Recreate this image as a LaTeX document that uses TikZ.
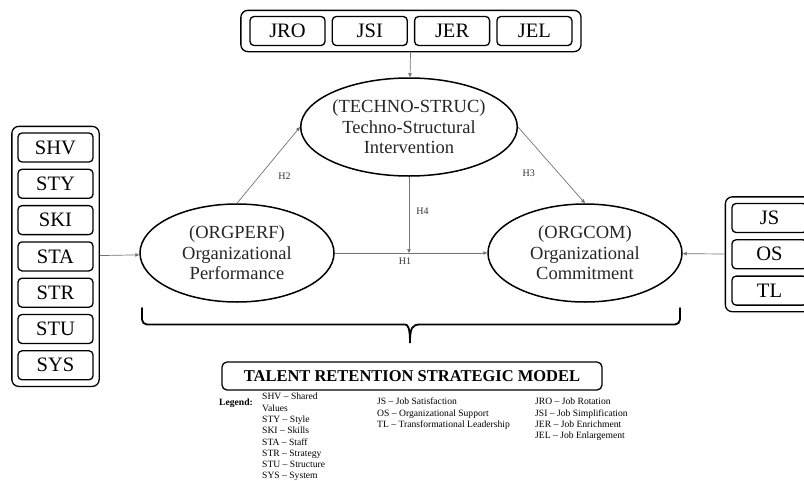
\documentclass[tikz,border=0pt]{standalone}
\usepackage{fontspec}
\setmainfont{Liberation Serif}
\usepackage{xcolor}
\usepackage{tikz}
\usetikzlibrary{shapes.geometric, arrows.meta, positioning, fit}

\begin{document}
\begin{tikzpicture}[x=1pt, y=-1pt,
  item/.style={draw, rounded corners=4pt, line width=1.3pt, minimum width=75pt,
               minimum height=29pt, inner sep=0pt, font=\fontsize{20.5}{21}\selectfont},
  frame/.style={draw, rounded corners=7pt, line width=1.3pt, inner xsep=6pt, inner ysep=6pt},
  construct/.style={draw, ellipse, line width=1.5pt, minimum width=194pt, minimum height=98pt,
                    align=center, inner sep=0pt, text=black!85, font=\fontsize{18.5}{20.5}\selectfont},
  arr/.style={-{Triangle[length=4pt, width=3.5pt]}, black!55, line width=0.7pt},
  hyp/.style={font=\fontsize{10}{10}\selectfont, text=black!80, inner sep=1pt},
  legend/.style={align=left, inner sep=0pt, anchor=north west, font=\fontsize{9.6}{11.3}\selectfont},
  brace/.style={line width=1.8pt, line cap=round}]

  \useasboundingbox (0,0) rectangle (804,480);

  % the three constructs
  \node[construct] (techno) at (409,127) {(TECHNO-STRUC)\\Techno-Structural\\Intervention};
  \node[construct] (perf) at (237,253) {(ORGPERF)\\Organizational\\Performance};
  \node[construct] (com) at (585,253) {(ORGCOM)\\Organizational\\Commitment};

  % top group of indicators
  \node[item] (jro) at (287.5,31) {JRO};
  \node[item, right=6pt of jro] (jsi) {JSI};
  \node[item, right=6pt of jsi] (jer) {JER};
  \node[item, right=6pt of jer] (jel) {JEL};
  \node[frame, inner xsep=8.5pt, inner ysep=5.5pt, fit=(jro)(jel)] (topgrp) {};

  % left group of indicators
  \node[item] (shv) at (55.5,147.5) {SHV};
  \node[item, below=6pt of shv] (sty) {STY};
  \node[item, below=6pt of sty] (ski) {SKI};
  \node[item, below=6pt of ski] (sta) {STA};
  \node[item, below=6pt of sta] (str) {STR};
  \node[item, below=6pt of str] (stu) {STU};
  \node[item, below=6pt of stu] (sys) {SYS};
  \node[frame, inner xsep=5.5pt, fit=(shv)(sys)] (leftgrp) {};

  % right group of indicators
  \node[item] (js) at (769.5,218) {JS};
  \node[item, below=6pt of js] (os) {OS};
  \node[item, below=6pt of os] (tl) {TL};
  \node[frame, fit=(js)(tl)] (rightgrp) {};

  % connectors
  \draw[arr] (topgrp) -- (techno);
  \draw[arr] (leftgrp) -- (perf);
  \draw[arr] (rightgrp) -- (com);
  \draw[arr] (perf) -- node[hyp, below=4pt, pos=0.46]{H1} (com);
  \draw[arr] (perf.north) -- node[hyp, pos=0.35, right=18pt]{H2} (techno.west);
  \draw[arr] (techno.east) -- node[hyp, pos=0.6, left=22pt]{H3} (com.north);
  \draw[arr] (techno) -- node[hyp, pos=0.45, right=6pt]{H4} (techno |- perf);

  % brace under the model
  \coordinate (bl) at (142,308);
  \coordinate (br) at (680,308);
  \coordinate (btip) at (410,343);
  \draw[brace] (bl) [rounded corners=5pt] -- (142,324.5) -- (400,324.5) [sharp corners]
    .. controls (408,324.5) and (410,328) .. (btip)
    .. controls (410,328) and (412,324.5) .. (420,324.5) [rounded corners=5pt]
    -- (680,324.5) -- (br);

  % title and legend
  \node[draw, rounded corners=5pt, line width=1.3pt, minimum width=380pt, minimum height=28pt,
        font=\fontsize{16.5}{18}\selectfont\bfseries] (title) at (412,376)
        {TALENT RETENTION STRATEGIC MODEL};
  \node[legend, anchor=north east] (leghead) at (253,399) {\textbf{Legend:}};
  \node[legend] (legone) at (262,393)
    {SHV -- Shared\\Values\\STY -- Style\\SKI -- Skills\\STA -- Staff\\STR -- Strategy\\STU -- Structure\\SYS -- System};
  \node[legend] (legtwo) at (377,398)
    {JS -- Job Satisfaction\\OS -- Organizational Support\\TL -- Transformational Leadership};
  \node[legend] (legthree) at (535,398)
    {JRO -- Job Rotation\\JSI -- Job Simplification\\JER -- Job Enrichment\\JEL -- Job Enlargement};
\end{tikzpicture}
\end{document}
